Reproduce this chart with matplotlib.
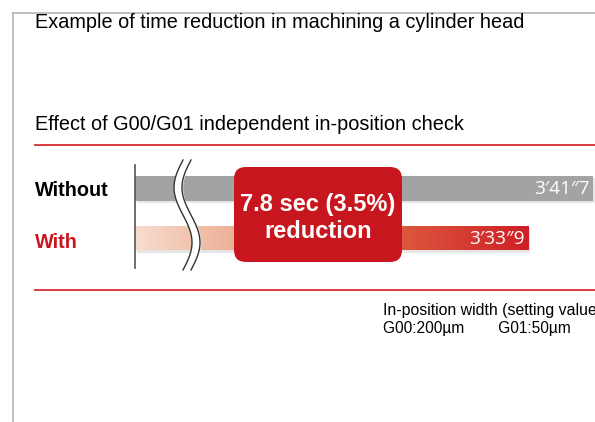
import matplotlib.pyplot as plt
import numpy as np
from matplotlib.colors import LinearSegmentedColormap
from matplotlib.patches import FancyBboxPatch, Rectangle

# Data: machining time in seconds
categories = ['Without', 'With']
times = [221.7, 213.9]          # 3'41"7 and 3'33"9
time_labels = ['3\u203241\u20337', '3\u203233\u20339']

title = 'Example of time reduction in machining a cylinder head'
subtitle = 'Effect of G00/G01 independent in-position check'
note1 = 'In-position width (setting value)'
note2 = 'G00:200\u00b5m        G01:50\u00b5m'

W, H = 595, 422
plt.rcParams['font.family'] = ['Liberation Sans', 'DejaVu Sans']

fig = plt.figure(figsize=(W / 100, H / 100), dpi=100)

def frac(x0, y0, x1, y1):
    # pixel box (top-left origin) -> figure fraction rect
    return [x0 / W, 1 - y1 / H, (x1 - x0) / W, (y1 - y0) / H]

XMIN, XMAX = 166.7, 221.9
# bar axes: broken time axis, bars start at left edge
ax = fig.add_axes(frac(135, 165, 595, 268))
ax.axis('off')

red = '#c8161e'
grey = '#a2a3a3'
grad = LinearSegmentedColormap.from_list('g', ['#f7ddcf', '#e9a184', '#dc5a3e', '#cf1f27'])

ypos = np.arange(len(categories))
bh = 0.5
# soft shadows
for y, t in zip(ypos, times):
    ax.add_patch(Rectangle((XMIN + 0.2, y - bh / 2 + 0.05), t - XMIN, bh,
                           color='#e6e6e6', zorder=1, lw=0))
ax.barh(ypos[0], times[0] - XMIN, left=XMIN, height=bh, color=grey, zorder=2)
bar = ax.barh(ypos[1], times[1] - XMIN, left=XMIN, height=bh, color='none', zorder=2)[0]
img = ax.imshow(np.linspace(0, 1, 256).reshape(1, -1), cmap=grad, aspect='auto',
                extent=(XMIN, times[1], ypos[1] + bh / 2, ypos[1] - bh / 2), zorder=2)
img.set_clip_path(bar)
ax.set_xlim(XMIN, XMAX)
ax.set_ylim(1.6, -0.46)

for y, t, lab in zip(ypos, times, time_labels):
    ax.text(t - 0.4, y + 0.02, lab, color='white', fontsize=13.7, ha='right', va='center',
            family=['Open Sans', 'DejaVu Sans'], zorder=5)

# overlay in pixel coordinates
ov = fig.add_axes([0, 0, 1, 1])
ov.set_xlim(0, W)
ov.set_ylim(H, 0)
ov.axis('off')
ov.patch.set_alpha(0)

ov.plot([13, 13], [13, H], color='#b5b5b5', lw=1.2)
ov.plot([13, W], [13, 13], color='#b5b5b5', lw=1.2)
ov.plot([35, W], [145, 145], color='#d42a2e', lw=1.3)
ov.plot([35, W], [290, 290], color='#d42a2e', lw=1.3)
ov.plot([135, 135], [165, 268], color='#555555', lw=1.2)

ov.text(35, 23, title, fontsize=14.3, va='center', ha='left')
ov.text(35, 125, subtitle, fontsize=14.3, va='center', ha='left')
ov.text(35, 190, categories[0], fontsize=14.3, fontweight='bold', va='center')
ov.text(35, 243, categories[1], fontsize=14.3, fontweight='bold', color=red, va='center')
ov.text(383, 311, note1, fontsize=11.4, va='center')
ov.text(383, 328, note2, fontsize=11.2, va='center')

# axis break mark
yy = np.linspace(160, 270, 100)
xl = 183 - 9 * np.sin(2 * np.pi * (yy - 160) / 110)
ov.fill_betweenx(yy, xl, xl + 8, color='white', zorder=3)
ov.plot(xl, yy, color='#333333', lw=1.0, zorder=4)
ov.plot(xl + 8, yy, color='#333333', lw=1.0, zorder=4)

# reduction box
diff = times[0] - times[1]
pct = diff / times[0] * 100
ov.add_patch(FancyBboxPatch((240, 173), 156, 83, boxstyle='round,pad=6,rounding_size=12',
                            color=red, zorder=5, lw=0))
ov.text(318, 204, f'{diff:.1f} sec ({pct:.1f}%)', color='white', fontsize=17,
        fontweight='bold', ha='center', va='center', zorder=6)
ov.text(318, 232, 'reduction', color='white', fontsize=17,
        fontweight='bold', ha='center', va='center', zorder=6)

fig.savefig('out.png', dpi=100)
